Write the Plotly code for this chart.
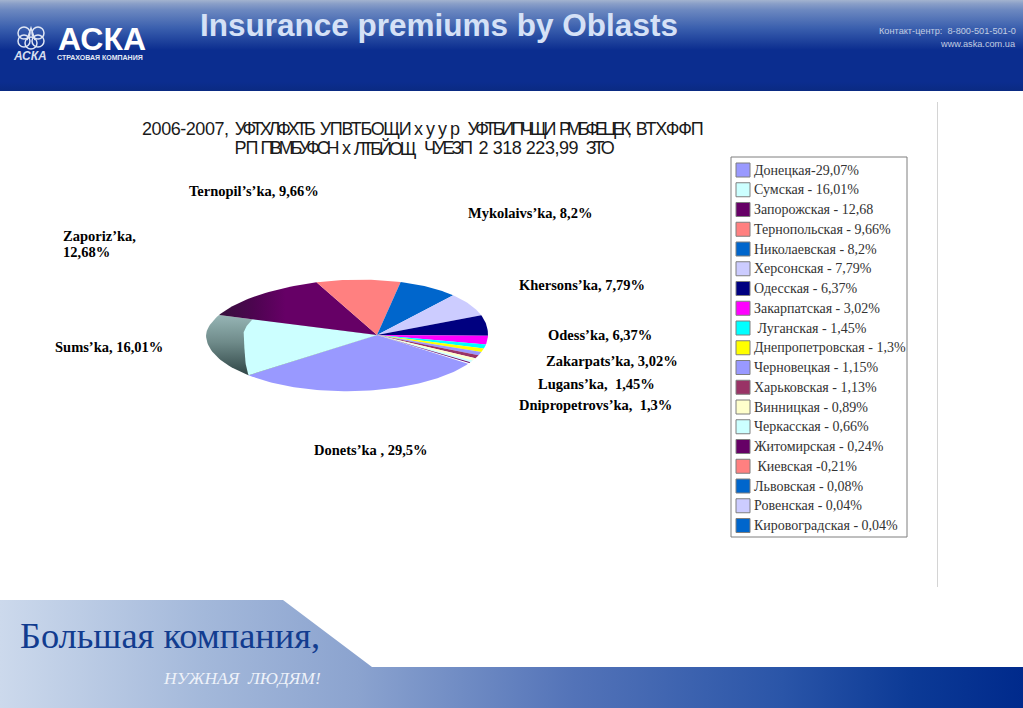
import json
import math
import plotly.graph_objects as go

# ---------- data ----------
oblast_legend = ["Донецкая-29,07%", "Сумская - 16,01%", "Запорожская - 12,68", "Тернопольская - 9,66%",
                 "Николаевская - 8,2%", "Херсонская - 7,79%", "Одесская - 6,37%", "Закарпатская - 3,02%",
                 " Луганская - 1,45%", "Днепропетровская - 1,3%", "Черновецкая - 1,15%", "Харьковская - 1,13%",
                 "Винницкая - 0,89%", "Черкасская - 0,66%", "Житомирская - 0,24%", " Киевская -0,21%",
                 "Львовская - 0,08%", "Ровенская - 0,04%", "Кировоградская - 0,04%"]
shares = [29.07, 16.01, 12.68, 9.66, 8.2, 7.79, 6.37, 3.02, 1.45, 1.3, 1.15, 1.13, 0.89, 0.66, 0.24, 0.21, 0.08, 0.04, 0.04]
slice_colors = ["#9999FF", "#CCFFFF", "#660066", "#FF8080", "#0066CC", "#CCCCFF", "#000080", "#FF00FF", "#00FFFF",
                "#FFFF00", "#9999FF", "#993366", "#FFFFCC", "#CCFFFF", "#660066", "#FF8080", "#0066CC", "#CCCCFF", "#0066CC"]

callouts = ["Ternopil’s’ka, 9,66%", "Mykolaivs’ka, 8,2%", "Zaporiz’ka,", "12,68%", "Khersons’ka, 7,79%",
            "Odess’ka, 6,37%", "Sums’ka, 16,01%", "Zakarpats’ka, 3,02%", "Lugans’ka,  1,45%",
            "Dnipropetrovs’ka,  1,3%", "Donets’ka , 29,5%"]
callout_x = [189, 468, 63, 63, 519, 548, 55, 546, 538, 519, 314]
callout_y = [191, 213, 236, 252, 285, 335, 347, 361, 384, 405, 450]

title_text = "Insurance premiums by Oblasts"
contact_lines = ["Контакт-центр:  8-800-501-501-0", "www.aska.com.ua"]

subtitle_words = ["2006-2007,", "УФТХЛФХТБ", "УПВТБОЩИ", "х", "у", "у", "р", "УФТБИПЧЩИ", "РМБФЕЦЕК,", "ВТХФФП",
                  "РП", "ПВМБУФСН", "х", "ЛТБЙОЩ", "ЧУЕЗП", "2 318 223,99", "ЗТО"]
word_left = [142, 235, 320, 414, 426, 438, 450, 467, 559, 636, 234, 260, 342, 354, 424, 478, 586]
word_right = [229, 316, 412, 423, 435, 446, 460, 556, 632, 704, 258, 339, 350, 417, 473, 578, 615]
word_y = [129] * 10 + [148] * 7

# ---------- pie geometry (perspective view of a unit circle) ----------
APEX_X, APEX_Y = 377, 335
SX, SY, PERSP = 214.8, 55, 0.2128
TILT = 0.04
START_DEG = 37.8


def project(theta_deg, r=1.0):
    t = math.radians(theta_deg)
    x, y = r * math.cos(t), r * math.sin(t)
    w = 1 + PERSP * x
    px, py = (SX * x + APEX_X) / w, APEX_Y + SY * y / w
    if y < 0:  # far rim leans slightly, as in the 3-D view
        py -= TILT * (px - APEX_X) * math.sqrt(-y)
    return px, py


def sector(a0, a1, rfun=lambda a: 1.0):
    n = max(2, int(abs(a1 - a0) / 1.5) + 2)
    pts = [project(a0 + (a1 - a0) * i / (n - 1), rfun(a0 + (a1 - a0) * i / (n - 1))) for i in range(n)]
    xs = [APEX_X] + [p[0] for p in pts] + [APEX_X]
    ys = [APEX_Y] + [p[1] for p in pts] + [APEX_Y]
    return xs, ys


fig = go.Figure()


def poly(xs, ys, color=None, gradient=None):
    kw = dict(x=xs, y=ys, mode="lines", fill="toself", line=dict(width=0), hoverinfo="skip", showlegend=False)
    if gradient:
        kw["fillgradient"] = gradient
    else:
        kw["fillcolor"] = color
    fig.add_trace(go.Scatter(**kw))


# backgrounds (vertical gradient stops run from the screen bottom upwards)
poly([0, 1023, 1023, 0, 0], [0, 0, 91, 91, 0],
     gradient=dict(type="vertical", colorscale=[[0, "#0a2a82"], [0.1, "#0b2d8f"], [0.45, "#0b2d8f"], [0.69, "#3a5fae"],
                                                [0.89, "#6c88c0"], [0.96, "#8a9fc8"], [1, "#a3b3cf"]]))
poly([0, 283, 372, 1023, 1023, 0, 0], [600, 600, 667, 667, 708, 708, 600],
     gradient=dict(type="horizontal", colorscale=[[0, "#ccd9ec"], [0.2, "#a3b8da"], [0.35, "#8ba3cf"], [0.56, "#5373b8"],
                                                  [0.765, "#2a55a8"], [0.89, "#0c3a96"], [1, "#002a8c"]]))
poly([937, 938, 938, 937, 937], [102, 102, 587, 587, 102], color="#d4d4d4")

# slices, running clockwise from the start angle
angle = START_DEG
scale = 360 / sum(shares)
for i, (v, c) in enumerate(zip(shares, slice_colors)):
    a0, a1 = angle, angle + v * scale
    xs, ys = sector(a0, a1)
    if i == 1:  # Sums: shaded wall plus lit face
        poly(xs, ys, gradient=dict(type="vertical", colorscale=[[0, "#2f4545"], [0.55, "#6f8b8a"], [1, "#96b5b5"]]))
        def inner(a, a0=a0):
            t = min(1.0, (a - a0) / 35)
            return 0.82 + 0.18 * (1 - t) ** 2
        xs, ys = sector(a0, a1, inner)
        poly(xs, ys, color=c)
    elif i == 2:  # Zaporizhzhia: dark shading towards its outer edge
        poly(xs, ys, gradient=dict(type="horizontal", colorscale=[[0, "#36103c"], [0.22, "#4d0450"], [0.42, "#660066"], [1, "#660066"]]))
    else:
        poly(xs, ys, color=c)
    angle = a1

# legend
LEG_X0, LEG_Y0, LEG_X1, LEG_Y1 = 731, 157, 907, 537
fig.add_shape(type="rect", x0=LEG_X0, x1=LEG_X1, y0=LEG_Y0, y1=LEG_Y1, line=dict(color="#7f7f7f", width=1))
row_y = [LEG_Y0 + 13 + i * 19.75 for i in range(len(oblast_legend))]
fig.add_trace(go.Scatter(x=[743] * len(row_y), y=row_y, mode="markers", hoverinfo="skip", showlegend=False,
                         marker=dict(symbol="square", size=14, color=slice_colors, line=dict(color="#7f7f7f", width=1))))
SERIF = "Liberation Serif"
SANS = "Liberation Sans"
PAD = 2  # annotation box padding


def note(text, x, y, size, color, family, anchor="left", bold=False, italic=False):
    dx = -PAD if anchor == "left" else PAD if anchor == "right" else 0
    fig.add_annotation(x=x + dx, y=y, text=text, showarrow=False, xanchor=anchor, yanchor="middle",
                       font=dict(size=size, color=color, family=family, weight=700 if bold else 400,
                                 style="italic" if italic else "normal"))


for name, y in zip(oblast_legend, row_y):
    note(name, 754, y, 14, "#333333", SERIF)

# callouts
for t, x, y in zip(callouts, callout_x, callout_y):
    note(t, x, y, 14.5, "#000000", SERIF, bold=True)

# title & header text
note(title_text, 200, 25, 31.5, "#d5e1f6", SANS, bold=True)
for t, y in zip(contact_lines, [31, 44]):
    note(t, 1016, y, 9.2, "#c2cde2", SANS, anchor="right")

# subtitle words, each squeezed about its centre to its measured width by the script below
word_start = len(fig.layout.annotations)
for t, l, r, y in zip(subtitle_words, word_left, word_right, word_y):
    note(t, (l + r) / 2, y, 18, "#1a1a1a", SANS, anchor="center")
word_widths = [r - l for l, r in zip(word_left, word_right)]

# logo
note("АСКА", 58, 39, 32, "#ffffff", SANS, bold=True)
note("СТРАХОВАЯ КОМПАНИЯ", 57, 57, 7, "#e4eaf5", SANS, bold=True)
note("АСКА", 13, 56, 12, "#d6def0", SANS, bold=True, italic=True)
for c in [(24, 33), (38, 33), (24, 41), (38, 41), (31, 43)]:
    fig.add_shape(type="circle", x0=c[0] - 6, x1=c[0] + 6, y0=c[1] - 6, y1=c[1] + 6,
                  line=dict(color="#dfe6f4", width=1.5))
fig.add_shape(type="path", path="M 27 40 L 31 28 L 35 40", line=dict(color="#dfe6f4", width=1.5))

# footer
note("Большая компания,", 20, 636, 36.4, "#123c8f", SERIF)
note("НУЖНАЯ  ЛЮДЯМ!", 163, 678, 17.5, "#eef2f9", SERIF, italic=True)

fig.update_layout(width=1023, height=708, margin=dict(l=0, r=0, t=0, b=0), autosize=False,
                  paper_bgcolor="white", plot_bgcolor="white", showlegend=False,
                  xaxis=dict(range=[0, 1023], visible=False, fixedrange=True),
                  yaxis=dict(range=[708, 0], visible=False, fixedrange=True))

post = """
document.body.style.margin='0';document.body.style.overflow='hidden';
(function(){
  var start=%d, widths=%s;
  function squeeze(){
    widths.forEach(function(w,i){
      var t=document.querySelector('.annotation[data-index="'+(start+i)+'"] text');
      if(t){t.setAttribute('textLength',w);t.setAttribute('lengthAdjust','spacing');}
    });
  }
  squeeze();
  setTimeout(squeeze,30);
  setTimeout(squeeze,200);
})();
""" % (word_start, json.dumps(word_widths))

fig.write_html("out.html", config={"displayModeBar": False}, post_script=post)
